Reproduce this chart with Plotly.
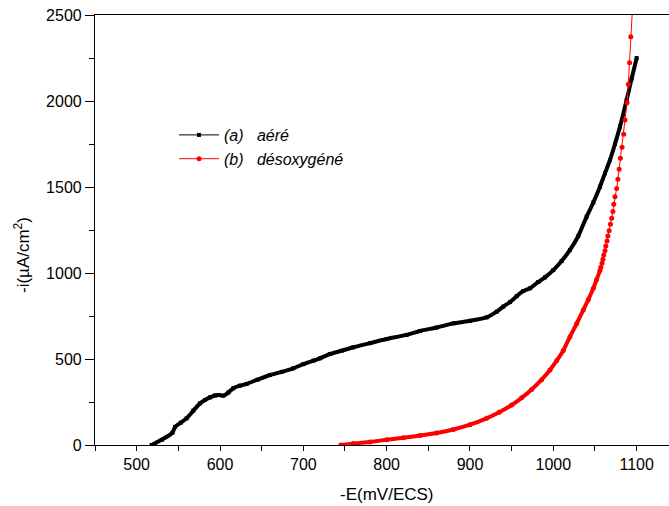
import plotly.graph_objects as go

# Polarisation curves: potential -E (mV/ECS) vs cathodic current density -i (µA/cm²)

# (a) aerated solution
e_aere = [518, 530, 543, 546, 553, 560, 568, 576, 582, 588, 594, 598, 604, 610,
          616, 624, 632, 645, 660, 674, 688, 700, 712, 720, 732, 746, 760, 780,
          800, 824, 840, 860, 880, 900, 920, 932, 940, 948, 956, 964, 972, 982,
          990, 1000, 1010, 1020, 1030, 1040, 1048, 1056, 1062, 1068, 1074, 1080,
          1088, 1094, 1100]
i_aere = [0, 30, 72, 105, 130, 155, 200, 242, 262, 277, 288, 291, 287, 305,
          330, 345, 355, 380, 407, 425, 446, 470, 490, 504, 529, 548, 568, 592,
          616, 640, 663, 683, 707, 722, 742, 775, 805, 831, 865, 895, 911, 948,
          975, 1017, 1070, 1134, 1215, 1328, 1410, 1502, 1580, 1657, 1750, 1851,
          2006, 2130, 2250]

# (b) deoxygenated solution
e_desox = [745, 760, 780, 800, 820, 840, 860, 880, 900, 920, 935, 950, 962, 974,
           986, 996, 1004, 1012, 1020, 1028, 1036, 1042, 1048, 1052, 1056,
           1057, 1058.5, 1059.5, 1060.5, 1062, 1063, 1064.5, 1065.5, 1067,
           1068.5, 1070, 1071.5, 1072.5, 1074, 1076, 1077.5, 1079, 1080.5,
           1082.5, 1084.5, 1086, 1088.5, 1090, 1091.5, 1093, 1095]
i_desox = [0, 8, 18, 30, 42, 55, 70, 90, 118, 155, 190, 232, 274, 323,
           380, 436, 490, 550, 630, 705, 785, 845, 911, 962, 1014,
           1033, 1056, 1080, 1105, 1130, 1157, 1186, 1215, 1246,
           1283, 1318, 1357, 1399, 1444, 1492, 1545, 1603, 1667,
           1731, 1806, 1890, 1990, 2097, 2223, 2374, 2540]

# the densely sampled part of curve (b) renders as a solid band
n_dense = 25

BLACK = "#000000"
RED = "#ff0000"
FONT = "Liberation Sans, Arial, sans-serif"

fig = go.Figure()

# curve (a): dense samples -> thick band
fig.add_trace(go.Scatter(x=e_aere, y=i_aere, mode="lines",
                         line=dict(color=BLACK, width=4, shape="spline",
                                   smoothing=0.6),
                         showlegend=False, hoverinfo="skip"))
fig.add_trace(go.Scatter(x=e_aere, y=i_aere, mode="lines+markers",
                         name="<i>(a)\u00a0\u00a0\u00a0aéré</i>",
                         line=dict(color=BLACK, width=1),
                         marker=dict(symbol="square", size=4, color=BLACK)))

# curve (b)
fig.add_trace(go.Scatter(x=e_desox[:n_dense], y=i_desox[:n_dense], mode="lines",
                         line=dict(color=RED, width=4, shape="spline",
                                   smoothing=0.6),
                         showlegend=False, hoverinfo="skip"))
fig.add_trace(go.Scatter(x=e_desox, y=i_desox, mode="lines+markers",
                         name="<i>(b)\u00a0\u00a0\u00a0désoxygéné</i>",
                         line=dict(color=RED, width=1),
                         marker=dict(symbol="circle", size=5, color=RED)))

W, H = 669, 506
L, R, T, B = 95, 0, 15, 61
pw, ph = W - L - R, H - T - B


def px(x):
    return (x - L) / pw


def py(y):
    return (H - B - y) / ph


fig.update_layout(
    width=W, height=H,
    margin=dict(l=L, r=R, t=T, b=B),
    paper_bgcolor="white", plot_bgcolor="white",
    font=dict(family=FONT, size=16, color=BLACK),
    legend=dict(x=px(174), y=py(118), xanchor="left", yanchor="top",
                bgcolor="rgba(0,0,0,0)", borderwidth=0,
                font=dict(size=16), itemwidth=40, tracegroupgap=0),
    xaxis=dict(range=[450, 450 + pw / 0.8333], showgrid=False, zeroline=False,
               showline=True, linecolor=BLACK, linewidth=1.2, mirror=True,
               ticks="outside", ticklen=5, tickwidth=1.2, tickcolor=BLACK,
               tickvals=[500, 600, 700, 800, 900, 1000, 1100],
               minor=dict(tickvals=[450, 550, 650, 750, 850, 950, 1050, 1150],
                          ticks="outside", ticklen=5, tickwidth=1.2,
                          tickcolor=BLACK),
               tickfont=dict(size=16)),
    yaxis=dict(range=[0, 2500], showgrid=False, zeroline=False,
               showline=True, linecolor=BLACK, linewidth=1.2, mirror=False,
               ticks="outside", ticklen=9, tickwidth=1.2, tickcolor=BLACK,
               tickvals=[0, 500, 1000, 1500, 2000, 2500],
               minor=dict(tickvals=[250, 750, 1250, 1750, 2250],
                          ticks="outside", ticklen=5, tickwidth=1.2,
                          tickcolor=BLACK),
               tickfont=dict(size=16)),
    annotations=[
        dict(text="-E(mV/ECS)", xref="paper", yref="paper",
             x=px(387), y=py(494), xanchor="center", yanchor="middle",
             showarrow=False, font=dict(size=17)),
        dict(text="-i(µA/cm<sup>2</sup>)", xref="paper", yref="paper",
             x=px(22), y=py(255), xanchor="center", yanchor="middle",
             textangle=-90, showarrow=False, font=dict(size=17)),
    ],
)

fig.write_html("out.html")
